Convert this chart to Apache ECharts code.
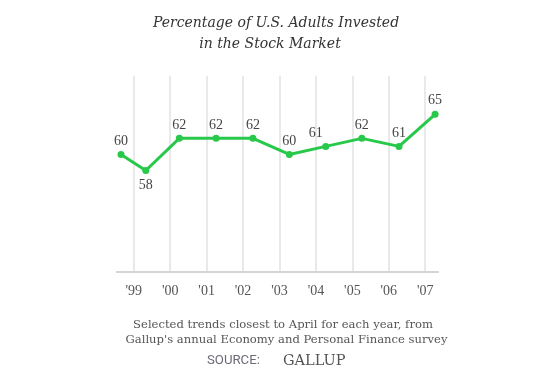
<!DOCTYPE html>
<html>
<head>
<meta charset="utf-8">
<script src="https://cdn.jsdelivr.net/npm/echarts@6/dist/echarts.min.js"></script>
<style>html,body{margin:0;padding:0;background:#fff}#c{width:559px;height:388px}</style>
</head>
<body>
<div id="c"></div>
<script>
// Survey timing (fractional year) and percentage invested
var surveyDates = [1998.65, 1999.33, 2000.25, 2001.26, 2002.27, 2003.27, 2004.27, 2005.26, 2006.28, 2007.27];
var percentInvested = [60, 58, 62, 62, 62, 60, 61, 62, 61, 65];
var tickYears = [1999, 2000, 2001, 2002, 2003, 2004, 2005, 2006, 2007];

var serif = '"Liberation Serif", "DejaVu Serif", serif';
var wideSerif = '"DejaVu Serif", "Liberation Serif", serif';
var chart = echarts.init(document.getElementById('c'), null, {renderer: 'canvas'});

var seriesData = surveyDates.map(function (d, i) {
  var item = {value: [d, percentInvested[i]]};
  if (i === 1) item.label = {position: 'bottom', distance: 4};
  if (i === 6) item.label = {offset: [-10, 0]};
  return item;
});

chart.setOption({
  animation: false,
  backgroundColor: '#fff',
  title: [
    {text: 'Percentage of U.S. Adults Invested', left: 271, top: 11.5, textAlign: 'center',
     textStyle: {fontFamily: wideSerif, fontStyle: 'italic', fontWeight: 'normal', fontSize: 14, color: '#333'}},
    {text: 'in the Stock Market', left: 265, top: 32.5, textAlign: 'center',
     textStyle: {fontFamily: wideSerif, fontStyle: 'italic', fontWeight: 'normal', fontSize: 14, color: '#333'}},
    {text: 'Selected trends closest to April for each year, from', left: 278, top: 314, textAlign: 'center',
     textStyle: {fontFamily: wideSerif, fontWeight: 'normal', fontSize: 11.6, color: '#555'}},
    {text: "Gallup's annual Economy and Personal Finance survey", left: 281.5, top: 329, textAlign: 'center',
     textStyle: {fontFamily: wideSerif, fontWeight: 'normal', fontSize: 11.6, color: '#555'}},
    {text: 'SOURCE:', left: 202, top: 349,
     textStyle: {fontFamily: '"Liberation Sans Narrow", "Roboto", sans-serif', fontWeight: 'normal', fontSize: 13.2, color: '#6b6b78'}},
    {text: 'GALLUP', left: 278, top: 348.5,
     textStyle: {fontFamily: wideSerif, fontWeight: 'normal', fontSize: 14.5, color: '#555'}}
  ],
  grid: {left: 117, right: 121, top: 75.7, bottom: 116.3, containLabel: false},
  xAxis: {
    type: 'value', min: 1998.54, max: 2007.35,
    axisLine: {show: true, lineStyle: {color: '#d4d4d0', width: 2}},
    axisTick: {show: false, customValues: tickYears},
    splitLine: {show: true, lineStyle: {color: '#e2e2e2', width: 1.5}},
    axisLabel: {customValues: tickYears, margin: 13, fontFamily: serif, fontSize: 14, color: '#555',
      formatter: function (v) { return "'" + String(v).slice(2); }}
  },
  yAxis: {
    type: 'value', min: 45.4, max: 69.8, show: false, splitLine: {show: false}
  },
  series: [{
    type: 'line',
    data: seriesData,
    clip: false,
    symbol: 'circle',
    symbolSize: 7,
    lineStyle: {color: '#28c84a', width: 3},
    itemStyle: {color: '#28c84a'},
    label: {show: true, position: 'top', distance: 3, fontFamily: serif, fontSize: 14, color: '#444'}
  }]
});
</script>
</body>
</html>
